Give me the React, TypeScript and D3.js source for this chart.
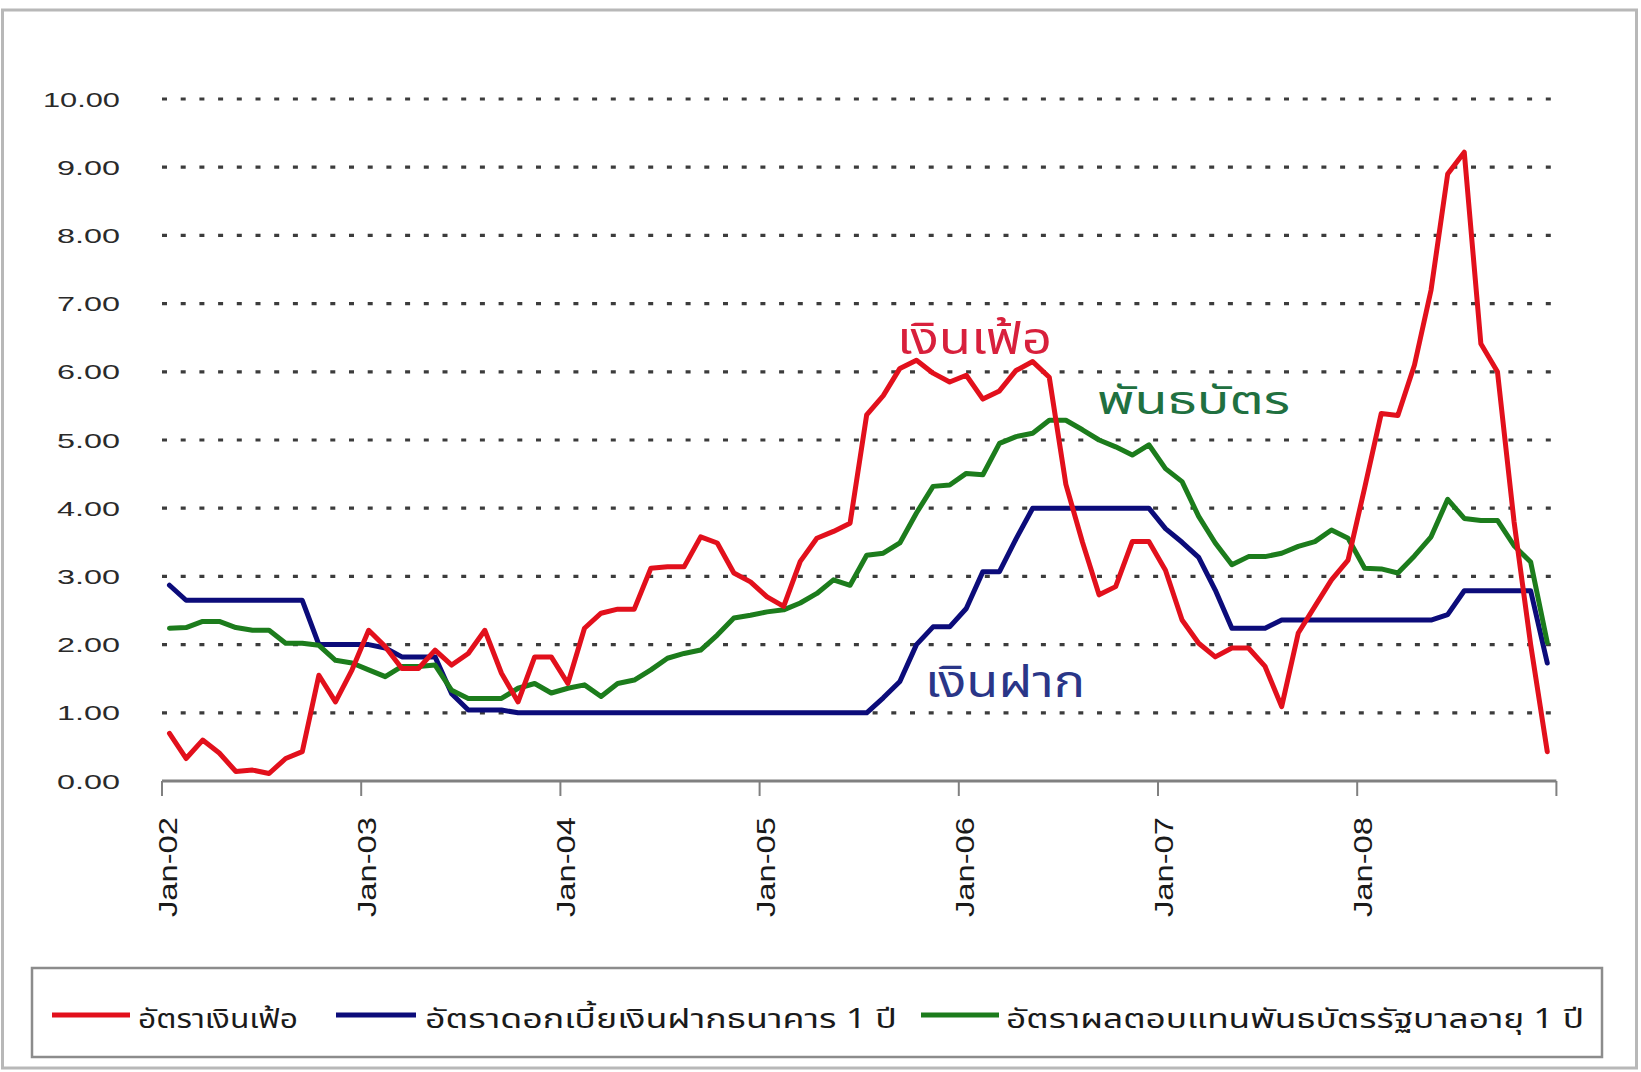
import React from "react";
import * as d3 from "d3";

// ---- data (monthly, Jan-2002 .. Dec-2008) ----
const yearLabels = ["Jan-02", "Jan-03", "Jan-04", "Jan-05", "Jan-06", "Jan-07", "Jan-08"];
const months = d3.timeMonth.range(new Date(2002, 0, 1), new Date(2009, 0, 1));

const inflation = [
  0.70, 0.33, 0.60, 0.41, 0.14, 0.16, 0.11, 0.33, 0.43, 1.55, 1.16, 1.63,
  2.21, 1.97, 1.65, 1.65, 1.92, 1.70, 1.87, 2.21, 1.58, 1.16, 1.82, 1.82,
  1.43, 2.24, 2.46, 2.52, 2.52, 3.12, 3.14, 3.14, 3.58, 3.49, 3.05, 2.92,
  2.70, 2.56, 3.22, 3.56, 3.66, 3.78, 5.37, 5.65, 6.05, 6.17, 5.98, 5.85,
  5.95, 5.60, 5.72, 6.02, 6.15, 5.92, 4.35, 3.50, 2.73, 2.85, 3.51, 3.51,
  3.09, 2.36, 2.02, 1.82, 1.95, 1.95, 1.68, 1.09, 2.17, 2.56, 2.95, 3.24,
  4.30, 5.39, 5.36, 6.10, 7.20, 8.90, 9.22, 6.41, 6.00, 3.80, 2.00, 0.43,
];

const deposit = [
  2.87, 2.65, 2.65, 2.65, 2.65, 2.65, 2.65, 2.65, 2.65, 2.00, 2.00, 2.00,
  2.00, 1.95, 1.82, 1.82, 1.82, 1.28, 1.04, 1.04, 1.04, 1.00, 1.00, 1.00,
  1.00, 1.00, 1.00, 1.00, 1.00, 1.00, 1.00, 1.00, 1.00, 1.00, 1.00, 1.00,
  1.00, 1.00, 1.00, 1.00, 1.00, 1.00, 1.00, 1.22, 1.46, 2.00, 2.26, 2.26,
  2.53, 3.07, 3.07, 3.55, 4.00, 4.00, 4.00, 4.00, 4.00, 4.00, 4.00, 4.00,
  3.70, 3.50, 3.28, 2.80, 2.24, 2.24, 2.24, 2.36, 2.36, 2.36, 2.36, 2.36,
  2.36, 2.36, 2.36, 2.36, 2.36, 2.44, 2.79, 2.79, 2.79, 2.79, 2.79, 1.73,
];

const bond = [
  2.24, 2.25, 2.34, 2.34, 2.25, 2.21, 2.21, 2.02, 2.02, 1.99, 1.77, 1.73,
  1.63, 1.53, 1.68, 1.68, 1.70, 1.33, 1.21, 1.21, 1.21, 1.36, 1.43, 1.29,
  1.36, 1.41, 1.24, 1.43, 1.48, 1.63, 1.80, 1.87, 1.92, 2.14, 2.39, 2.43,
  2.48, 2.51, 2.61, 2.75, 2.95, 2.87, 3.31, 3.34, 3.49, 3.93, 4.32, 4.34,
  4.51, 4.49, 4.95, 5.05, 5.10, 5.29, 5.29, 5.15, 5.00, 4.90, 4.78, 4.93,
  4.58, 4.39, 3.88, 3.49, 3.17, 3.29, 3.29, 3.34, 3.44, 3.51, 3.68, 3.56,
  3.12, 3.11, 3.05, 3.30, 3.58, 4.13, 3.85, 3.82, 3.82, 3.45, 3.21, 2.03,
];

const yTicks = [0, 1, 2, 3, 4, 5, 6, 7, 8, 9, 10];

const legendLabels = [
  "อัตราเงินเฟ้อ",
  "อัตราดอกเบี้ยเงินฝากธนาคาร 1 ปี",
  "อัตราผลตอบแทนพันธบัตรรัฐบาลอายุ 1 ปี",
];
const annotationLabels = ["เงินเฟ้อ", "พันธบัตร", "เงินฝาก"];

const RED = "#e2101c";
const BLUE = "#0c0c7a";
const GREEN = "#1c7c1c";

const THAI_FONT = "'Noto Sans Thai', 'Noto Sans Thai UI', Tahoma, Loma, Garuda, 'DejaVu Sans', sans-serif";
const LATIN_FONT = "'Liberation Sans', Arial, sans-serif";

export default function App() {
  const W = 1641;
  const H = 1072;
  const x0 = 162;
  const x1 = 1556.4;
  const x = d3.scaleLinear().domain([0, months.length]).range([x0, x1]);
  const y = d3.scaleLinear().domain([0, 10]).range([781, 99]);
  const off = 0.45;

  const line = d3
    .line<number>()
    .x((_, i) => x(i + off))
    .y((d) => y(d));

  const fmt = d3.format(".2f");
  const yearTicks = d3.range(0, months.length + 1, 12);

  const series = [
    { data: deposit, color: BLUE },
    { data: bond, color: GREEN },
    { data: inflation, color: RED },
  ];

  const legendItems = [
    { label: legendLabels[0], color: RED, lx: 52, lw: 78, tx: 138, tw: 160 },
    { label: legendLabels[1], color: BLUE, lx: 336, lw: 80, tx: 425, tw: 472 },
    { label: legendLabels[2], color: GREEN, lx: 921, lw: 78, tx: 1006, tw: 578 },
  ];

  return (
    <svg
      width={W}
      height={H}
      style={{ position: "absolute", left: 0, top: 0, background: "#fff" }}
    >
      <rect x={0} y={0} width={W} height={H} fill="#fff" />
      <rect x={2.5} y={10} width={1634} height={1058} fill="none" stroke="#b8b8b8" strokeWidth={3} />

      {/* gridlines */}
      {yTicks
        .filter((t) => t > 0)
        .map((t) => (
          <line
            key={"g" + t}
            x1={x0}
            x2={1560}
            y1={y(t)}
            y2={y(t)}
            stroke="#3c3c3c"
            strokeWidth={3.2}
            strokeDasharray="5 13.7"
          />
        ))}

      {/* y labels */}
      {yTicks.map((t) => (
        <text
          key={"yl" + t}
          x={120}
          y={y(t)}
          dy="0.36em"
          textAnchor="end"
          fontFamily={LATIN_FONT}
          fontSize={21}
          fill="#2a2a2a"
          textLength={t === 10 ? 77 : 63}
          lengthAdjust="spacingAndGlyphs"
        >
          {fmt(t)}
        </text>
      ))}

      {/* x axis */}
      <line x1={x0} x2={x1} y1={y(0)} y2={y(0)} stroke="#808080" strokeWidth={3} />
      {yearTicks.map((m) => (
        <line
          key={"t" + m}
          x1={x(m)}
          x2={x(m)}
          y1={y(0)}
          y2={y(0) + 15}
          stroke="#808080"
          strokeWidth={2}
        />
      ))}
      {yearLabels.map((lab, i) => {
        const px = x(i * 12) + 15;
        const py = 817;
        return (
          <text
            key={"xl" + lab}
            transform={`translate(${px},${py}) rotate(-90)`}
            textAnchor="end"
            fontFamily={LATIN_FONT}
            fontSize={25}
            fill="#1a1a1a"
            textLength={100}
            lengthAdjust="spacingAndGlyphs"
          >
            {lab}
          </text>
        );
      })}

      {/* series */}
      {series.map((s, i) => (
        <path
          key={"s" + i}
          d={line(s.data) || ""}
          fill="none"
          stroke={s.color}
          strokeWidth={5}
          strokeLinejoin="round"
          strokeLinecap="round"
        />
      ))}

      {/* annotations */}
      <text x={897} y={354} fontFamily={THAI_FONT} fontSize={44} fill="#d8203c" textLength={155} lengthAdjust="spacingAndGlyphs">
        {annotationLabels[0]}
      </text>
      <text x={1097} y={414} fontFamily={THAI_FONT} fontSize={40} fill="#207040" textLength={193} lengthAdjust="spacingAndGlyphs">
        {annotationLabels[1]}
      </text>
      <text x={925} y={697} fontFamily={THAI_FONT} fontSize={44} fill="#2a3688" textLength={160} lengthAdjust="spacingAndGlyphs">
        {annotationLabels[2]}
      </text>

      {/* legend */}
      <rect x={32} y={968} width={1570} height={89} fill="#fff" stroke="#8c8c8c" strokeWidth={2.5} />
      {legendItems.map((it, i) => (
        <g key={"lg" + i}>
          <line x1={it.lx} x2={it.lx + it.lw} y1={1015} y2={1015} stroke={it.color} strokeWidth={5} />
          <text
            x={it.tx}
            y={1028}
            fontFamily={THAI_FONT}
            fontSize={27}
            fill="#1a1a1a"
            textLength={it.tw}
            lengthAdjust="spacingAndGlyphs"
          >
            {it.label}
          </text>
        </g>
      ))}
    </svg>
  );
}
